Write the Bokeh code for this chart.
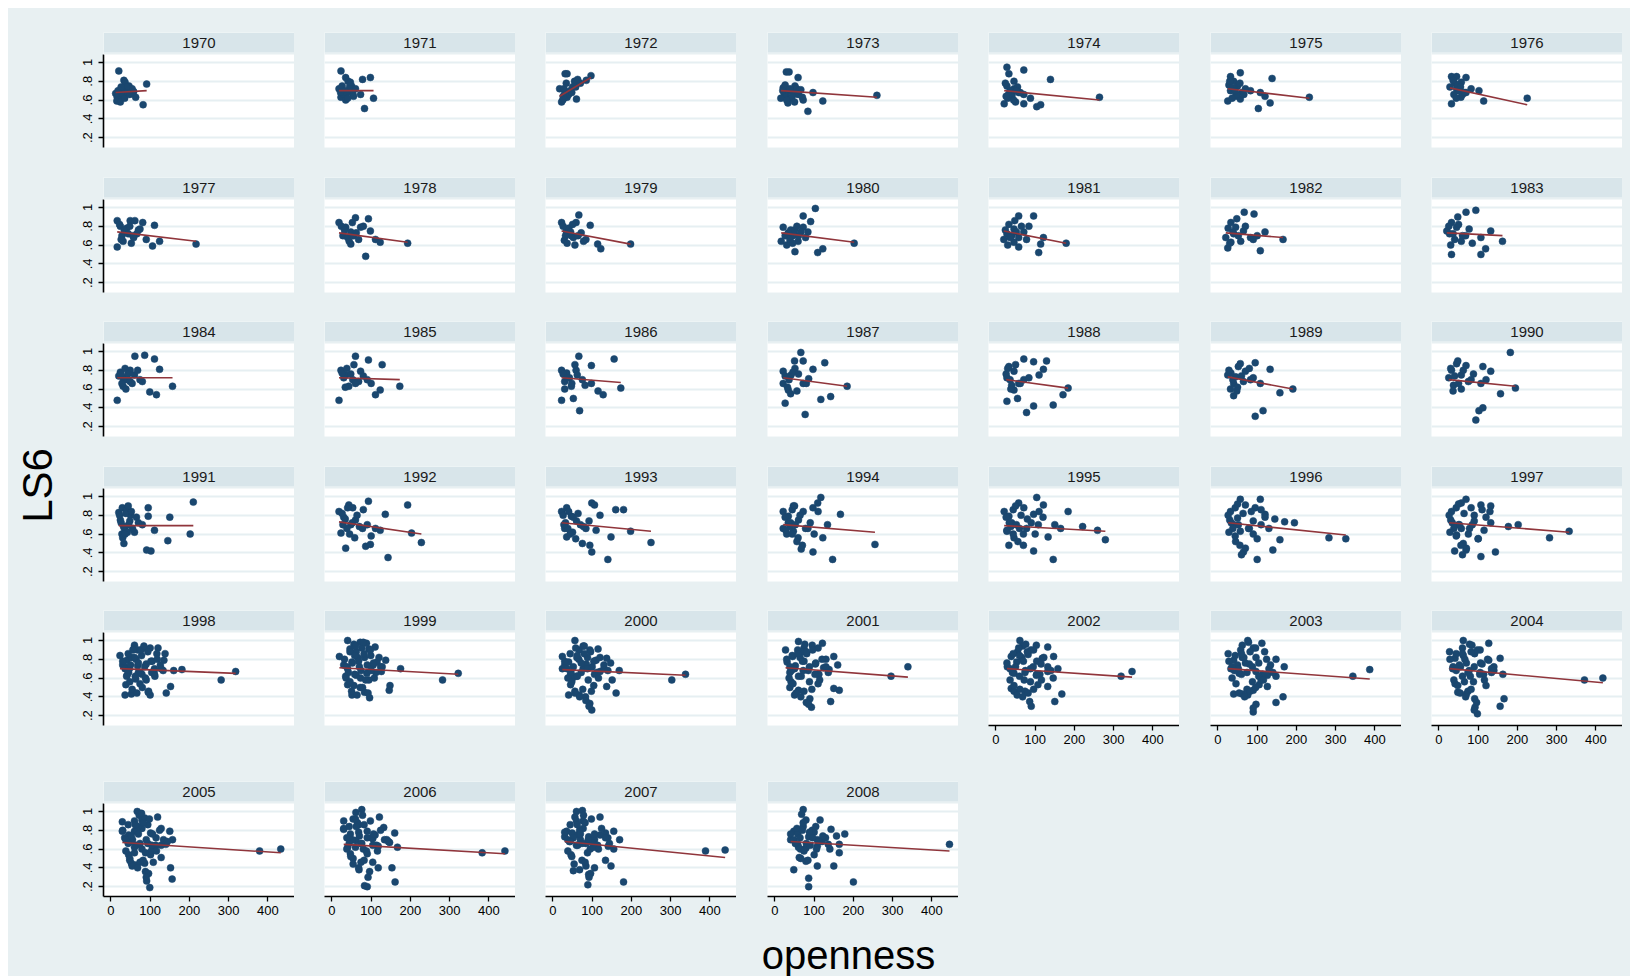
import math
from bokeh.plotting import figure
from bokeh.layouts import row, column
from bokeh.models import (Range1d, FixedTicker, BoxAnnotation, Label, Spacer,
                          LinearAxis, Grid, CustomJSTickFormatter)
from bokeh.embed import file_html
from bokeh.resources import INLINE

# ---------------- data ----------------
years = list(range(1970, 2009))
x_ticks = [0, 100, 200, 300, 400]
y_ticks = [0.2, 0.4, 0.6, 0.8, 1.0]

# fitted line (lfit) value at the smallest and largest openness of each year
fit_start = [.68, .70, .64, .70, .70, .72, .73, .74, .73, .75, .73, .75, .73,
             .73, .72, .72, .72, .72, .70, .73, .70, .69, .73, .72, .70, .69,
             .72, .72, .70, .71, .69, .71, .70, .70, .70, .67, .65, .68, .68]
fit_end = [.70, .70, .84, .63, .60, .62, .55, .64, .63, .61, .63, .62, .68,
           .70, .72, .70, .67, .63, .61, .60, .63, .69, .60, .63, .62, .63,
           .59, .62, .65, .64, .63, .61, .61, .59, .55, .56, .55, .51, .58]

x_1970 = [20, 33, 36, 46, 54, 12, 16, 22, 15, 24, 63, 82, 91, 40, 28, 30, 58, 25, 30, 35, 18, 42, 48, 26]
y_1970 = [.91, .81, .79, .75, .72, .67, .63, .60, .59, .58, .63, .55, .77, .74, .67, .70, .69, .71, .66, .62, .70, .68, .66, .74]
x_1971 = [23, 35, 41, 50, 18, 28, 43, 60, 23, 35, 53, 78, 98, 106, 83, 73, 30, 45, 26, 33, 38, 47, 55, 40, 22]
y_1971 = [.91, .84, .80, .75, .72, .70, .70, .72, .63, .60, .67, .82, .84, .62, .51, .66, .66, .74, .75, .70, .68, .79, .64, .62, .68]
x_1972 = [31, 36, 55, 50, 17, 31, 58, 36, 22, 60, 85, 97, 25, 44, 70, 40, 28, 28, 34, 48, 63, 30, 26]
y_1972 = [.88, .88, .80, .74, .72, .68, .74, .63, .58, .61, .81, .86, .60, .70, .78, .66, .62, .72, .78, .68, .82, .66, .64]
x_1973 = [29, 36, 59, 21, 33, 46, 51, 66, 29, 41, 59, 72, 33, 84, 122, 260, 97, 24, 55, 15, 26, 38, 44, 62, 30, 50, 20, 70]
y_1973 = [.90, .90, .84, .73, .70, .68, .75, .71, .64, .62, .66, .60, .57, .48, .59, .65, .68, .66, .72, .62, .76, .72, .64, .70, .60, .58, .70, .63]
x_1974 = [28, 71, 33, 46, 28, 46, 58, 41, 21, 71, 104, 114, 139, 71, 264, 36, 55, 30, 50, 88, 24, 38, 45, 62, 32, 52, 26]
y_1974 = [.95, .92, .88, .80, .75, .72, .68, .65, .56, .56, .53, .55, .82, .66, .63, .70, .74, .62, .58, .62, .78, .70, .60, .68, .66, .70, .64]
x_1975 = [32, 57, 40, 50, 32, 45, 25, 57, 83, 108, 120, 103, 138, 133, 233, 70, 62, 28, 30, 38, 48, 56, 36, 44, 66]
y_1975 = [.85, .89, .80, .75, .70, .64, .59, .61, .70, .68, .64, .51, .83, .57, .63, .72, .68, .76, .80, .73, .66, .78, .62, .70, .66]
x_1976 = [32, 45, 69, 57, 45, 69, 56, 32, 102, 114, 225, 82, 40, 60, 50, 36, 48, 55, 65, 38, 44, 28]
y_1976 = [.85, .85, .84, .79, .72, .68, .63, .56, .70, .59, .62, .72, .78, .66, .70, .81, .76, .74, .68, .66, .62, .74]
x_1977 = [16, 49, 61, 24, 36, 56, 31, 16, 74, 111, 106, 124, 217, 81, 40, 28, 66, 90, 52, 22, 34, 44, 58, 70, 26, 48]
y_1977 = [.86, .86, .86, .80, .74, .70, .64, .58, .77, .81, .59, .64, .61, .84, .78, .70, .72, .66, .62, .82, .76, .72, .68, .76, .66, .80]
x_1978 = [18, 60, 93, 35, 48, 73, 98, 48, 86, 111, 123, 193, 28, 40, 62, 24, 32, 55, 68, 80, 44, 52]
y_1978 = [.84, .89, .88, .79, .74, .79, .75, .61, .48, .66, .63, .62, .70, .68, .73, .80, .76, .70, .66, .80, .64, .84]
x_1979 = [66, 22, 59, 95, 34, 47, 29, 56, 84, 114, 122, 198, 72, 40, 52, 26, 32, 45, 64, 78, 36, 50]
y_1979 = [.92, .84, .84, .81, .75, .70, .65, .60, .66, .61, .56, .61, .73, .78, .68, .80, .70, .74, .70, .64, .62, .82]
x_1980 = [103, 91, 72, 21, 34, 46, 16, 59, 51, 109, 122, 202, 72, 84, 30, 40, 60, 26, 38, 50, 66, 78, 56, 45]
y_1980 = [.99, .85, .91, .79, .73, .70, .64, .64, .53, .52, .56, .62, .79, .74, .60, .76, .70, .70, .66, .76, .74, .68, .80, .62]
x_1981 = [58, 96, 33, 46, 28, 58, 46, 58, 109, 114, 179, 121, 71, 40, 20, 84, 24, 36, 52, 65, 78, 30, 48]
y_1981 = [.91, .91, .82, .77, .72, .68, .63, .58, .52, .61, .62, .68, .74, .70, .66, .80, .76, .68, .74, .80, .66, .60, .86]
x_1982 = [67, 92, 33, 45, 65, 20, 33, 25, 108, 120, 166, 83, 58, 40, 100, 26, 38, 52, 70, 90, 30, 48]
y_1982 = [.95, .93, .84, .79, .75, .68, .63, .57, .54, .74, .66, .68, .64, .72, .70, .78, .74, .70, .80, .66, .62, .88]
x_1983 = [69, 94, 32, 45, 27, 57, 32, 107, 119, 132, 162, 77, 107, 40, 60, 20, 25, 36, 50, 68, 85, 30, 48]
y_1983 = [.95, .97, .84, .79, .72, .64, .50, .50, .56, .75, .64, .77, .68, .66, .70, .75, .80, .72, .82, .70, .62, .60, .90]
x_1984 = [16, 24, 36, 49, 61, 86, 111, 124, 36, 49, 31, 99, 116, 157, 74, 20, 60, 42, 26, 32, 44, 54, 68, 80, 38, 28]
y_1984 = [.48, .78, .82, .80, .95, .96, .92, .81, .72, .68, .63, .57, .54, .63, .70, .74, .75, .70, .76, .70, .76, .66, .80, .68, .60, .66]
x_1985 = [18, 60, 93, 128, 23, 35, 53, 73, 68, 111, 123, 173, 43, 30, 80, 100, 26, 38, 48, 60, 90, 34, 56]
y_1985 = [.48, .95, .91, .86, .80, .75, .70, .79, .68, .54, .59, .63, .63, .72, .74, .66, .77, .82, .76, .66, .70, .62, .86]
x_1986 = [66, 156, 22, 35, 59, 30, 47, 22, 52, 68, 98, 128, 173, 98, 115, 42, 75, 26, 36, 48, 62, 82, 30, 56]
y_1986 = [.95, .92, .80, .77, .80, .68, .63, .48, .50, .37, .85, .54, .61, .66, .58, .72, .70, .76, .72, .66, .75, .64, .60, .86]
x_1987 = [66, 72, 127, 21, 41, 51, 97, 21, 34, 26, 77, 117, 142, 184, 72, 86, 56, 26, 36, 46, 60, 80, 32, 50, 40]
y_1987 = [.99, .90, .88, .79, .75, .82, .81, .66, .59, .45, .33, .49, .52, .63, .66, .71, .58, .74, .70, .78, .76, .66, .62, .90, .55]
x_1988 = [71, 96, 129, 33, 46, 121, 28, 58, 46, 28, 96, 78, 146, 171, 184, 71, 110, 40, 26, 36, 50, 62, 84, 38, 55, 30]
y_1988 = [.92, .89, .90, .84, .79, .81, .72, .66, .59, .47, .42, .35, .43, .54, .61, .70, .75, .64, .76, .70, .86, .66, .72, .60, .50, .82]
x_1989 = [57, 95, 133, 33, 45, 70, 83, 40, 50, 40, 95, 115, 158, 191, 108, 25, 65, 28, 38, 52, 60, 80, 32, 48, 90]
y_1989 = [.87, .88, .81, .77, .73, .79, .70, .66, .62, .53, .31, .37, .56, .60, .66, .75, .68, .80, .70, .84, .74, .82, .60, .58, .72]
x_1990 = [182, 45, 69, 32, 57, 82, 37, 57, 132, 112, 102, 112, 94, 195, 157, 107, 25, 75, 30, 40, 50, 62, 88, 36, 48, 120]
y_1990 = [.99, .87, .85, .80, .75, .70, .64, .60, .79, .84, .37, .40, .27, .61, .55, .66, .72, .68, .82, .74, .66, .80, .76, .58, .90, .70]
x_1991 = [210, 20, 29, 24, 40, 50, 33, 91, 102, 145, 202, 150, 111, 95, 95, 60, 35, 45, 28, 70,
          22, 26, 32, 38, 42, 48, 55, 65, 80, 30, 36, 52, 44]
y_1991 = [.94, .83, .88, .75, .86, .80, .50, .43, .42, .53, .60, .78, .64, .88, .79, .62, .65, .70, .60, .72,
          .80, .72, .68, .82, .62, .74, .66, .78, .70, .56, .60, .84, .90]
x_1992 = [18, 43, 53, 93, 193, 136, 23, 35, 86, 98, 143, 203, 228, 111, 123, 60, 48, 70, 30,
          26, 34, 40, 52, 64, 78, 90, 45, 58, 38, 28, 80, 100]
y_1992 = [.84, .91, .88, .95, .91, .81, .61, .45, .47, .49, .35, .61, .51, .66, .64, .75, .70, .68, .78,
          .82, .76, .88, .72, .80, .66, .70, .60, .56, .66, .70, .86, .58]
x_1993 = [35, 99, 106, 160, 180, 22, 47, 60, 30, 35, 99, 140, 148, 198, 250, 94, 84, 110, 70, 50,
          26, 32, 40, 52, 64, 78, 92, 44, 58, 38, 28, 120, 75]
y_1993 = [.88, .93, .91, .86, .86, .84, .79, .74, .66, .57, .41, .33, .57, .63, .51, .48, .66, .64, .70, .62,
          .80, .72, .84, .78, .82, .68, .74, .60, .55, .66, .70, .80, .50]
x_1994 = [117, 47, 97, 109, 21, 34, 72, 167, 21, 47, 59, 67, 97, 147, 255, 122, 134, 84, 40, 60, 30,
          26, 34, 44, 52, 64, 78, 90, 44, 56, 38, 28, 110, 70, 100, 50]
y_1994 = [.99, .90, .88, .93, .84, .79, .84, .81, .66, .63, .56, .44, .41, .33, .49, .56, .70, .66, .72, .75, .60,
          .78, .72, .86, .70, .80, .66, .72, .60, .52, .68, .64, .84, .48, .60, .90]
x_1995 = [104, 58, 121, 21, 33, 71, 96, 184, 221, 28, 46, 33, 96, 146, 133, 279, 259, 108, 60, 40, 80, 150, 70,
          26, 34, 44, 52, 64, 78, 90, 44, 56, 38, 28, 110, 70, 100, 50, 120, 165]
y_1995 = [.99, .93, .91, .84, .79, .88, .81, .84, .68, .63, .56, .48, .42, .33, .57, .54, .64, .70, .66, .72, .76, .70, .60,
          .78, .72, .86, .70, .80, .66, .72, .60, .52, .68, .64, .84, .48, .60, .90, .78, .66]
x_1996 = [57, 108, 32, 70, 95, 120, 195, 40, 57, 45, 65, 100, 140, 158, 283, 326, 145, 170, 80, 30, 90, 110, 50,
          26, 34, 44, 52, 64, 78, 90, 44, 56, 38, 28, 110, 70, 100, 50, 120, 130, 60, 85]
y_1996 = [.97, .97, .84, .91, .88, .81, .72, .70, .63, .52, .41, .33, .43, .54, .56, .55, .76, .73, .66, .75, .60, .70, .77,
          .80, .72, .88, .70, .82, .66, .74, .58, .48, .66, .62, .86, .45, .55, .92, .78, .66, .38, .84]
x_1997 = [69, 57, 32, 82, 107, 132, 202, 177, 57, 45, 62, 69, 107, 144, 282, 332, 132, 30, 90, 75, 50, 115, 100,
          26, 34, 44, 52, 64, 78, 90, 44, 56, 38, 28, 110, 70, 100, 50, 120, 130, 60, 85, 40]
y_1997 = [.97, .93, .84, .88, .91, .90, .70, .68, .66, .59, .50, .43, .36, .41, .56, .63, .72, .75, .80, .60, .70, .64, .55,
          .80, .72, .88, .70, .82, .66, .74, .58, .48, .66, .62, .86, .45, .55, .92, .78, .84, .38, .70, .42]
x_1998 = [23, 60, 58, 68, 84, 100, 120, 138, 135, 41, 52, 36, 47, 68, 90, 111, 133, 160, 181, 41,
          38, 36, 52, 57, 90, 95, 100, 141, 152, 281, 318, 79, 63, 111, 117, 45, 75, 105, 30,
          30, 36, 44, 50, 56, 64, 70, 78, 86, 94, 102, 110, 118, 126, 40, 48, 62, 74, 88, 104,
          54, 66, 80, 96, 44, 60, 76, 112, 128, 70, 84]
y_1998 = [.84, .95, .91, .90, .92, .92, .92, .86, .79, .79, .82, .72, .70, .73, .75, .70, .68, .68, .69, .63,
          .53, .42, .43, .45, .58, .45, .42, .44, .51, .58, .67, .64, .59, .64, .86, .66, .66, .78, .74,
          .78, .70, .86, .74, .90, .80, .66, .84, .72, .88, .78, .68, .80, .74, .62, .56, .62, .54, .60, .66,
          .48, .44, .50, .46, .68, .82, .90, .62, .70, .76, .94]
x_1999 = [40, 56, 72, 88, 94, 46, 62, 110, 19, 51, 83, 99, 115, 137, 175, 40, 62, 89, 126, 35,
          40, 51, 83, 96, 148, 146, 94, 282, 322, 56, 73, 105, 70, 30,
          32, 38, 46, 52, 60, 66, 74, 82, 90, 98, 106, 112, 120, 128, 36, 46, 58, 72, 86, 100,
          50, 64, 78, 92, 42, 58, 76, 108, 124, 68, 80]
y_1999 = [1.0, .96, .98, .97, .91, .91, .88, .93, .83, .77, .82, .84, .77, .79, .70, .70, .63, .65, .67, .62,
          .53, .42, .45, .39, .52, .47, .58, .58, .65, .52, .60, .74, .72, .74,
          .80, .72, .88, .76, .94, .82, .68, .86, .74, .90, .76, .66, .82, .72, .60, .56, .64, .50, .58, .68,
          .46, .42, .50, .44, .66, .84, .92, .60, .72, .78, .98]
x_2000 = [56, 67, 77, 94, 115, 24, 40, 61, 88, 110, 137, 147, 169, 24, 45, 77, 120, 45, 40, 56,
          67, 83, 94, 99, 137, 161, 151, 303, 338, 104, 30, 100, 60, 130, 85, 50,
          30, 36, 44, 52, 58, 66, 72, 80, 88, 96, 104, 112, 120, 130, 38, 48, 62, 76, 90, 106,
          56, 68, 84, 98, 46, 62, 80, 116, 140, 72, 92]
y_2000 = [1.0, .90, .94, .90, .91, .83, .77, .82, .82, .79, .81, .76, .68, .70, .64, .70, .67, .53, .42, .46,
          .42, .40, .33, .26, .51, .44, .58, .58, .64, .52, .74, .72, .62, .70, .75, .60,
          .78, .70, .86, .72, .92, .80, .66, .86, .70, .88, .78, .66, .82, .74, .60, .56, .62, .48, .58, .64,
          .44, .40, .36, .46, .66, .84, .94, .60, .68, .76, .30]
x_2001 = [60, 27, 74, 95, 121, 110, 45, 81, 150, 160, 31, 52, 74, 103, 124, 138, 38, 67, 110, 41,
          38, 50, 60, 89, 93, 142, 150, 164, 110, 296, 339, 85, 45, 130, 70,
          30, 38, 44, 50, 58, 64, 72, 80, 88, 96, 104, 112, 120, 130, 36, 46, 60, 74, 88, 102,
          54, 66, 80, 94, 42, 58, 76, 114, 136, 70, 86]
y_2001 = [.99, .90, .92, .95, .97, .92, .83, .86, .83, .74, .77, .73, .78, .75, .71, .69, .66, .62, .64, .56,
          .50, .42, .47, .38, .29, .35, .49, .47, .54, .62, .72, .68, .70, .80, .88,
          .80, .72, .84, .70, .90, .82, .68, .88, .72, .90, .76, .64, .80, .72, .60, .54, .62, .46, .56, .64,
          .44, .40, .34, .48, .68, .86, .96, .58, .66, .78, .32]
x_2002 = [61, 68, 89, 103, 132, 39, 53, 82, 147, 158, 29, 46, 75, 103, 132, 146, 39, 46, 61, 86,
          107, 132, 150, 168, 319, 347, 72, 118, 95, 55, 115,
          28, 36, 44, 50, 58, 66, 74, 80, 88, 96, 104, 112, 122, 132, 36, 46, 60, 74, 88, 104,
          54, 68, 82, 96, 42, 60, 76, 116, 140, 70, 90]
y_2002 = [1.0, .94, .90, .95, .93, .83, .77, .85, .83, .70, .72, .65, .68, .63, .67, .60, .49, .46, .48, .35,
          .53, .51, .35, .43, .62, .67, .58, .81, .72, .88, .75,
          .76, .70, .86, .72, .92, .82, .66, .88, .70, .90, .78, .64, .82, .72, .58, .52, .62, .46, .56, .64,
          .42, .40, .44, .48, .66, .84, .96, .58, .68, .78, .30]
x_2003 = [76, 62, 90, 112, 119, 26, 40, 62, 97, 148, 169, 33, 54, 97, 126, 148, 40, 62, 76, 90,
          97, 90, 148, 166, 126, 344, 387, 105, 80, 50, 130, 110,
          28, 36, 44, 52, 58, 66, 74, 82, 88, 96, 104, 114, 124, 134, 36, 46, 60, 74, 88, 104,
          54, 68, 82, 96, 42, 60, 78, 116, 140, 70, 90]
y_2003 = [1.0, .95, .92, .97, .88, .86, .79, .82, .82, .80, .72, .70, .65, .67, .63, .62, .43, .43, .42, .47,
          .32, .24, .34, .40, .51, .62, .69, .53, .75, .74, .70, .58,
          .78, .72, .84, .70, .90, .82, .66, .88, .72, .92, .76, .64, .80, .74, .60, .54, .64, .48, .56, .62,
          .44, .40, .46, .50, .68, .86, .98, .58, .66, .76, .28]
x_2004 = [62, 84, 105, 127, 27, 41, 62, 91, 127, 156, 55, 77, 105, 134, 163, 41, 48, 70, 91, 98,
          92, 156, 166, 120, 371, 418, 65, 110, 35, 80, 140,
          28, 36, 44, 52, 60, 66, 74, 82, 90, 98, 106, 114, 124, 134, 38, 48, 60, 74, 88, 104,
          54, 68, 82, 96, 44, 60, 78, 116, 140, 70, 90]
y_2004 = [1.0, .95, .90, .97, .88, .81, .84, .86, .79, .81, .72, .68, .66, .66, .64, .54, .45, .43, .38, .22,
          .29, .30, .38, .52, .58, .60, .56, .75, .70, .62, .72,
          .80, .72, .86, .74, .92, .80, .66, .88, .72, .90, .76, .64, .80, .70, .58, .52, .62, .46, .56, .64,
          .44, .40, .48, .34, .68, .86, .96, .58, .68, .76, .26]
x_2005 = [67, 72, 79, 86, 119, 29, 29, 45, 60, 79, 94, 101, 128, 150, 157, 50, 64, 79, 94, 108,
          128, 45, 48, 52, 62, 86, 101, 108, 128, 88, 91, 99, 152, 156, 379, 433, 103, 60, 140, 115,
          70, 35, 55,
          30, 38, 44, 52, 60, 66, 74, 82, 90, 98, 106, 114, 124, 134, 38, 48, 60, 74, 88, 104,
          54, 68, 82, 96, 44, 62, 78, 116, 144, 70, 90]
y_2005 = [1.0, .96, .91, .93, .94, .89, .79, .75, .79, .82, .86, .77, .82, .79, .70, .68, .64, .60, .66, .62,
          .64, .54, .48, .45, .43, .45, .54, .46, .51, .36, .26, .19, .40, .28, .58, .60, .58, .56, .65, .72,
          .84, .72, .70,
          .80, .70, .86, .74, .90, .80, .66, .88, .70, .92, .76, .64, .80, .70, .58, .50, .62, .46, .56, .64,
          .42, .40, .48, .34, .66, .86, .98, .58, .68, .76, .30]
x_2006 = [61, 76, 30, 30, 47, 54, 68, 90, 121, 132, 160, 61, 76, 104, 118, 147, 167, 47, 54, 69,
          90, 104, 118, 83, 90, 161, 153, 383, 441, 100, 80, 40, 140, 110, 65,
          30, 38, 44, 52, 60, 68, 74, 82, 90, 98, 106, 114, 124, 134, 38, 48, 60, 74, 88, 104,
          54, 68, 82, 96, 44, 62, 78, 116, 144, 70, 92]
y_2006 = [.99, 1.02, .90, .81, .76, .92, .86, .79, .94, .83, .77, .69, .66, .71, .63, .67, .62, .55, .50, .38,
          .55, .46, .40, .21, .20, .25, .40, .56, .58, .72, .60, .62, .70, .75, .88,
          .82, .72, .84, .70, .92, .78, .66, .86, .72, .90, .76, .64, .80, .70, .60, .52, .62, .46, .58, .64,
          .44, .40, .48, .36, .66, .84, .96, .58, .68, .74, .30]
x_2007 = [60, 75, 56, 77, 120, 35, 49, 63, 77, 91, 106, 134, 155, 170, 42, 63, 84, 106, 141, 155,
          46, 52, 84, 91, 89, 106, 134, 148, 180, 389, 439, 120, 70, 100, 140, 30, 95,
          30, 38, 44, 52, 60, 68, 74, 82, 90, 98, 106, 114, 124, 134, 38, 48, 60, 74, 88, 104,
          54, 68, 82, 96, 44, 62, 78, 116, 144, 70, 92]
y_2007 = [1.0, 1.01, .94, .90, .94, .79, .77, .75, .82, .73, .70, .77, .79, .70, .68, .64, .66, .63, .63, .60,
          .54, .37, .42, .33, .22, .40, .48, .42, .25, .58, .59, .75, .70, .67, .72, .73, .60,
          .78, .70, .86, .72, .90, .80, .66, .88, .70, .92, .76, .64, .82, .72, .58, .52, .64, .48, .56, .62,
          .44, .38, .46, .34, .68, .86, .96, .60, .66, .76, .30]
x_2008 = [72, 68, 79, 115, 48, 58, 72, 86, 108, 129, 143, 157, 178, 58, 79, 108, 136, 164, 48, 62,
          79, 86, 86, 108, 150, 164, 200, 445, 95, 120, 40, 100, 65, 140,
          40, 48, 56, 64, 72, 80, 88, 96, 104, 112, 122, 60, 74, 90, 106, 66, 84, 100, 52, 70]
y_2008 = [1.02, .97, .91, .91, .79, .76, .84, .73, .70, .72, .81, .74, .76, .65, .61, .63, .65, .65, .38, .51,
          .47, .29, .20, .42, .42, .56, .25, .65, .80, .68, .70, .78, .60, .60,
          .76, .70, .82, .72, .88, .66, .78, .72, .84, .68, .74, .62, .58, .64, .60, .50, .48, .54, .66, .80]

# ---------------- style ----------------
BG = "#E8F0F2"
STRIP = "#D8E5EA"
GRID = "#E6EFF2"
NAVY = "#1A476F"
MAROON = "#90353B"
FONT = "Liberation Sans"

X0, X1 = -19, 468
Y0, Y1 = 0.095, 1.085
PLOT_H, TITLE_H, GAP = 93, 20, 2
FRAME_W = 191
UPP = (Y1 - Y0) / PLOT_H
YTOP = Y1 + (TITLE_H + GAP) * UPP
STRIP_BOT = Y1 + GAP * UPP

col_border = [30, 30, 30, 31, 30, 31, 30]
row_top = [24, 0, 0, 0, 0, 0]
row_bot = [30, 29, 30, 29, 56, 28]
RIGHT_PAD = 8

ylab_fmt = CustomJSTickFormatter(code="""
    if (Math.abs(tick - 1) < 1e-9) { return '1'; }
    return '.' + Math.round(tick * 10).toString();
""")


def make_panel(yr, r, c, xs, ys, fs, fe):
    show_y = (c == 0)
    show_x = (r == 5) or (r == 4 and c >= 4)
    p = figure(frame_width=FRAME_W, frame_height=PLOT_H + TITLE_H + GAP,
               x_range=Range1d(X0, X1), y_range=Range1d(Y0, YTOP),
               x_axis_location=None, y_axis_location=None,
               toolbar_location=None, output_backend="svg",
               min_border_left=col_border[c], min_border_right=0,
               min_border_top=row_top[r], min_border_bottom=row_bot[r],
               background_fill_color="white", border_fill_color=BG,
               outline_line_color=None)
    p.grid.visible = False
    p.add_layout(Grid(dimension=1, ticker=FixedTicker(ticks=y_ticks),
                      grid_line_color=GRID, grid_line_width=2))
    # strip with the year
    p.add_layout(BoxAnnotation(bottom=Y1, top=STRIP_BOT, fill_color=BG,
                               fill_alpha=1, line_color=None))
    p.add_layout(BoxAnnotation(bottom=STRIP_BOT, fill_color=STRIP,
                               fill_alpha=1, line_color=None))
    p.add_layout(Label(x=(X0 + X1) / 2, y=(STRIP_BOT + YTOP) / 2, text=str(yr),
                       text_align="center", text_baseline="middle",
                       text_font=FONT, text_font_size="15px", text_color="#1a1a1a"))
    p.scatter(xs, ys, size=7, fill_color=NAVY, line_color=NAVY, line_width=0.5)
    p.line([min(xs), max(xs)], [fs, fe], line_color=MAROON, line_width=1.6)
    if show_y:
        ya = LinearAxis(ticker=FixedTicker(ticks=y_ticks), formatter=ylab_fmt,
                        bounds=(Y0, Y1), major_label_orientation="vertical",
                        axis_line_color="black", axis_line_width=1.6,
                        major_tick_line_color="black", major_tick_line_width=1.3,
                        major_tick_out=5, major_tick_in=0,
                        minor_tick_line_color=None, major_label_standoff=6,
                        major_label_text_font=FONT, major_label_text_font_size="13px",
                        major_label_text_color="black")
        p.add_layout(ya, "left")
    if show_x:
        xa = LinearAxis(ticker=FixedTicker(ticks=x_ticks),
                        axis_line_color="black", axis_line_width=1.6,
                        major_tick_line_color="black", major_tick_line_width=1.3,
                        major_tick_out=5, major_tick_in=0,
                        minor_tick_line_color=None, major_label_standoff=4,
                        major_label_text_font=FONT, major_label_text_font_size="13px",
                        major_label_text_color="black")
        p.add_layout(xa, "below")
    return p


g = globals()
rows = []
for r in range(6):
    figs = []
    for c in range(7):
        i = r * 7 + c
        if i >= len(years):
            break
        yr = years[i]
        figs.append(make_panel(yr, r, c, g[f"x_{yr}"], g[f"y_{yr}"],
                               fit_start[i], fit_end[i]))
    if len(figs) < 7:
        used = sum(col_border[:len(figs)]) + FRAME_W * len(figs)
        total = sum(col_border) + FRAME_W * 7
        figs.append(Spacer(width=total - used,
                           height=row_top[r] + PLOT_H + TITLE_H + GAP + row_bot[r],
                           styles={"background-color": BG}))
    rows.append(row(figs))

grid_h = sum(row_top[r] + PLOT_H + TITLE_H + GAP + row_bot[r] for r in range(6))
LEFT_W = 65

left = figure(frame_width=LEFT_W, frame_height=grid_h, x_range=Range1d(0, LEFT_W),
              y_range=Range1d(0, grid_h), x_axis_location=None, y_axis_location=None,
              toolbar_location=None, output_backend="svg", min_border=0,
              background_fill_color=BG, border_fill_color=BG, outline_line_color=None)
left.grid.visible = False
left.add_layout(Label(x=29, y=grid_h - 477, text="LS6", angle=math.pi / 2,
                      text_align="center", text_baseline="middle",
                      text_font=FONT, text_font_size="42px", text_color="black"))

TOTAL_W = LEFT_W + sum(col_border) + FRAME_W * 7 + RIGHT_PAD
BOT_H = 52
bottom = figure(frame_width=TOTAL_W, frame_height=BOT_H, x_range=Range1d(0, TOTAL_W),
                y_range=Range1d(0, BOT_H), x_axis_location=None, y_axis_location=None,
                toolbar_location=None, output_backend="svg", min_border=0,
                background_fill_color=BG, border_fill_color=BG, outline_line_color=None)
bottom.grid.visible = False
bottom.add_layout(Label(x=840, y=22, text="openness", text_align="center",
                        text_baseline="middle", text_font=FONT,
                        text_font_size="40px", text_color="black"))

right_pad = Spacer(width=RIGHT_PAD, height=grid_h, styles={"background-color": BG})
inner = column([row([left, column(rows, styles={"background-color": BG}), right_pad]), bottom],
               styles={"background-color": BG})
layout = column([Spacer(height=8), row([Spacer(width=8), inner])])

open("out.html", "w").write(file_html(layout, INLINE))
